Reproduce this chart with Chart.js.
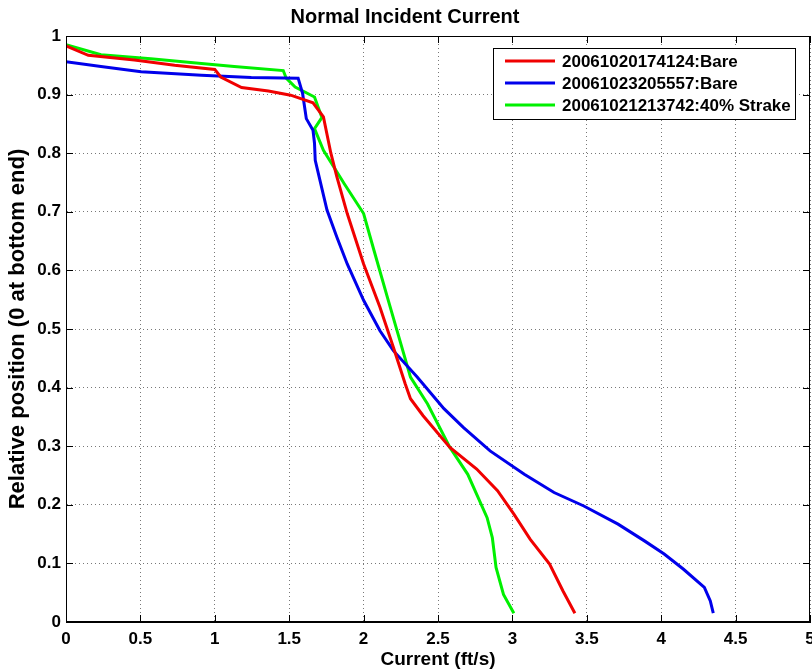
<!DOCTYPE html>
<html lang="en">
<head>
<meta charset="UTF-8">
<title>Normal Incident Current</title>
<script src="https://cdn.jsdelivr.net/npm/chart.js"></script>
<style>
    body { margin: 0; background: #fff; }
    .chart-container { width: 812px; height: 672px; }
</style>
</head>
<body>
<div class="chart-container">
    <canvas id="currentChart"></canvas>
</div>
<script>
// series names (legend)
const seriesNames = ['20061020174124:Bare', '20061023205557:Bare', '20061021213742:40% Strake'];

// red - 20061020174124:Bare
const redX = [0.0, 0.15, 0.46, 0.73, 1.0, 1.04, 1.18, 1.36, 1.51, 1.66, 1.73, 1.78, 1.82, 1.89, 2.0, 2.11, 2.20, 2.28, 2.315, 2.40, 2.58, 2.76, 2.90, 3.01, 3.12, 3.25, 3.34, 3.42];
const redY = [0.983, 0.967, 0.959, 0.950, 0.943, 0.930, 0.912, 0.906, 0.899, 0.886, 0.862, 0.800, 0.760, 0.697, 0.611, 0.537, 0.469, 0.406, 0.381, 0.352, 0.298, 0.261, 0.224, 0.184, 0.141, 0.099, 0.053, 0.015];

// blue - 20061023205557:Bare
const blueX = [0.0, 0.235, 0.505, 0.91, 1.245, 1.56, 1.59, 1.615, 1.66, 1.67, 1.675, 1.754, 1.82, 1.89, 2.0, 2.11, 2.20, 2.36, 2.54, 2.67, 2.85, 3.08, 3.28, 3.48, 3.71, 3.89, 4.02, 4.15, 4.29, 4.33, 4.35];
const blueY = [0.956, 0.948, 0.939, 0.933, 0.929, 0.928, 0.902, 0.859, 0.839, 0.817, 0.788, 0.703, 0.657, 0.611, 0.549, 0.497, 0.463, 0.418, 0.364, 0.332, 0.292, 0.252, 0.221, 0.198, 0.167, 0.138, 0.116, 0.090, 0.059, 0.036, 0.015];

// green - 20061021213742:40% Strake
const greenX = [0.0, 0.235, 0.57, 0.91, 1.13, 1.46, 1.48, 1.54, 1.67, 1.72, 1.67, 1.73, 1.87, 2.0, 2.07, 2.16, 2.25, 2.315, 2.43, 2.58, 2.70, 2.83, 2.865, 2.89, 2.94, 3.01];
const greenY = [0.985, 0.968, 0.961, 0.953, 0.948, 0.941, 0.928, 0.913, 0.896, 0.861, 0.842, 0.805, 0.748, 0.697, 0.634, 0.554, 0.475, 0.418, 0.372, 0.298, 0.252, 0.178, 0.144, 0.093, 0.047, 0.015];

const lineColors = ['rgb(240,0,0)', 'rgb(0,0,235)', 'rgb(0,240,0)'];

function toPoints(xs, ys) {
    return xs.map((x, i) => ({ x: x, y: ys[i] }));
}

// MATLAB style labels: 0, 0.5, 1, 1.5 ...
const tickLabel = v => String(Math.round(v * 10) / 10);

const fontFamily = 'Arial, "Liberation Sans", Helvetica, sans-serif';

// MATLAB-like frame, inward ticks and boxed legend
const matlabFrame = {
    id: 'matlabFrame',
    afterDraw(chart) {
        const { ctx, chartArea: { left, right, top, bottom } } = chart;
        const xs = chart.scales.x, ys = chart.scales.y;
        ctx.save();
        ctx.strokeStyle = '#000';
        ctx.lineWidth = 1;
        ctx.strokeRect(left + 0.5, top + 0.5, right - left - 1, bottom - top - 1);
        ctx.beginPath();
        xs.ticks.forEach(t => {
            const px = Math.round(xs.getPixelForValue(t.value)) + 0.5;
            ctx.moveTo(px, bottom); ctx.lineTo(px, bottom - 7);
            ctx.moveTo(px, top); ctx.lineTo(px, top + 7);
        });
        ys.ticks.forEach(t => {
            const py = Math.round(ys.getPixelForValue(t.value)) + 0.5;
            ctx.moveTo(left, py); ctx.lineTo(left + 7, py);
            ctx.moveTo(right, py); ctx.lineTo(right - 7, py);
        });
        ctx.stroke();

        // legend box
        const bx = 493, by = 48, bw = 302, bh = 71;
        ctx.fillStyle = '#fff';
        ctx.fillRect(bx, by, bw, bh);
        ctx.strokeStyle = '#000';
        ctx.strokeRect(bx + 0.5, by + 0.5, bw, bh);
        ctx.font = 'bold 17px ' + fontFamily;
        ctx.textBaseline = 'middle';
        ctx.textAlign = 'left';
        chart.data.datasets.forEach((ds, i) => {
            const ly = by + 13 + i * 22;
            ctx.strokeStyle = ds.borderColor;
            ctx.lineWidth = 3;
            ctx.beginPath();
            ctx.moveTo(bx + 12, ly); ctx.lineTo(bx + 62, ly);
            ctx.stroke();
            ctx.fillStyle = '#000';
            ctx.fillText(ds.label, bx + 69, ly + 1);
        });
        ctx.restore();
    }
};

const ctx = document.getElementById('currentChart').getContext('2d');

new Chart(ctx, {
    type: 'scatter',
    data: {
        datasets: [
            { label: seriesNames[0], data: toPoints(redX, redY) },
            { label: seriesNames[1], data: toPoints(blueX, blueY) },
            { label: seriesNames[2], data: toPoints(greenX, greenY) }
        ].map((d, i) => Object.assign(d, {
            showLine: true,
            borderColor: lineColors[i],
            backgroundColor: lineColors[i],
            borderWidth: 3,
            pointRadius: 0,
            tension: 0
        }))
    },
    options: {
        responsive: true,
        maintainAspectRatio: false,
        animation: false,
        layout: { padding: { left: 0, right: 2, top: 0, bottom: 0 } },
        plugins: {
            legend: { display: false },
            tooltip: { enabled: false },
            title: {
                display: true,
                text: 'Normal Incident Current',
                color: '#000',
                font: { family: fontFamily, size: 20, weight: 'bold', lineHeight: 1.2 },
                padding: { top: 5, bottom: 7 }
            }
        },
        scales: {
            x: {
                type: 'linear',
                min: 0,
                max: 5,
                ticks: {
                    stepSize: 0.5,
                    autoSkip: false,
                    maxRotation: 0,
                    color: '#000',
                    padding: 7,
                    font: { family: fontFamily, size: 17, weight: 'bold' },
                    callback: tickLabel
                },
                grid: { color: 'rgb(120,120,120)', drawTicks: false },
                border: { display: true, color: '#000', dash: [1, 3] },
                title: {
                    display: true,
                    text: 'Current (ft/s)',
                    color: '#000',
                    font: { family: fontFamily, size: 19, weight: 'bold', lineHeight: 1.2 },
                    padding: { top: 0, bottom: 1 }
                },
                afterFit(scale) {
                    scale.height = 50;
                    scale.paddingLeft = 0;
                    scale.paddingRight = 0;
                }
            },
            y: {
                type: 'linear',
                min: 0,
                max: 1,
                ticks: {
                    stepSize: 0.1,
                    autoSkip: false,
                    color: '#000',
                    padding: 5,
                    font: { family: fontFamily, size: 17, weight: 'bold' },
                    callback: tickLabel
                },
                grid: { color: 'rgb(120,120,120)', drawTicks: false },
                border: { display: true, color: '#000', dash: [1, 3] },
                title: {
                    display: true,
                    text: 'Relative position (0 at bottom end)',
                    color: '#000',
                    font: { family: fontFamily, size: 22, weight: 'bold', lineHeight: 1.2 },
                    padding: { top: 5, bottom: 0 }
                },
                afterFit(scale) {
                    scale.width = 66;
                    scale.paddingTop = 0;
                    scale.paddingBottom = 0;
                }
            }
        }
    },
    plugins: [matlabFrame]
});
</script>
</body>
</html>
